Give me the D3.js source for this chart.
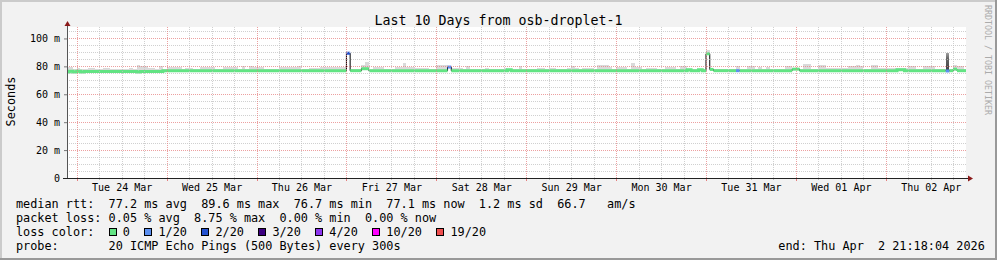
<!DOCTYPE html>
<html>
<head>
<meta charset="utf-8">
<script src="https://cdn.jsdelivr.net/npm/d3@7"></script>
<style>
body { margin: 0; background: #f2f2f2; }
text { font-family: "DejaVu Sans Mono", monospace; }
</style>
</head>
<body>
<script>
// ---- data (hourly rows, first row starts Mon 23 Mar 21:00) ----
let medianRtt = [
  76.0, 76.5, 76.0, 76.5, 76.0, 76.3, 76.3, 76.3, 76.3, 76.3, 76.3, 76.3,
  76.3, 76.3, 76.3, 76.3, 76.3, 76.3, 76.3, 76.0, 76.4, 76.4, 76.4, 76.4,
  76.4, 76.4, 76.9, 76.9, 76.9, 76.9, 76.9, 76.9, 76.9, 76.9, 76.9, 76.9,
  76.9, 76.9, 76.9, 76.9, 76.9, 76.9, 76.9, 76.9, 76.9, 76.9, 76.9, 76.9,
  76.9, 76.9, 76.9, 76.9, 76.9, 76.9, 76.9, 76.9, 76.9, 76.9, 76.9, 76.9,
  76.9, 76.9, 76.9, 76.9, 76.9, 76.9, 76.9, 76.9, 76.9, 76.9, 76.9, 76.9,
  76.9, 76.9, 76.9, 89.4, 76.9, 76.9, 76.9, 78.3, 78.3, 76.9, 76.9, 76.9,
  76.9, 76.9, 76.9, 76.9, 76.9, 76.9, 76.9, 76.9, 76.9, 76.9, 76.9, 76.9,
  76.9, 76.9, 76.9, 76.9, 76.9, 76.9, 79.5, 76.9, 76.9, 76.9, 76.9, 76.9,
  76.9, 76.9, 76.9, 76.9, 76.9, 76.9, 76.9, 76.9, 76.9, 76.9, 77.5, 76.9,
  76.9, 76.9, 76.9, 76.9, 76.9, 76.9, 76.9, 76.9, 76.9, 76.9, 76.9, 76.9,
  76.9, 76.9, 76.9, 76.9, 76.9, 76.9, 76.9, 76.9, 76.9, 76.9, 76.9, 76.9,
  76.9, 76.9, 76.9, 76.9, 76.9, 76.9, 76.9, 76.9, 76.9, 76.9, 76.9, 76.9,
  76.9, 76.9, 76.9, 76.9, 76.9, 76.9, 76.9, 76.9, 76.9, 76.9, 77.6, 76.9,
  76.9, 77.6, 76.9, 89.0, 77.8, 76.9, 76.9, 76.9, 76.9, 76.9, 76.9, 76.9,
  76.9, 76.9, 76.9, 76.9, 76.9, 76.9, 76.9, 76.9, 76.9, 76.9, 76.9, 76.9,
  76.9, 76.9, 78.0, 78.0, 76.9, 76.9, 76.9, 76.9, 76.9, 76.9, 76.9, 76.9,
  76.9, 76.9, 76.9, 76.9, 76.9, 76.9, 76.9, 76.9, 76.9, 76.9, 76.9, 76.9,
  76.9, 76.9, 76.9, 76.9, 76.9, 76.9, 77.6, 77.6, 76.9, 76.9, 76.9, 76.9,
  76.9, 76.9, 76.9, 76.9, 76.9, 76.9, 76.9, 76.7, 76.9, 78.0, 76.9, 76.9,
  76.9
];

// top of the smoke (slowest pings) per hour
let smokeHi = [
  79.5, 79.5, 78.4, 78.8, 78.4, 78.4, 78.8, 78.8, 78.4, 78.4, 78.8, 78.8,
  78.4, 78.4, 78.4, 78.4, 78.4, 78.8, 78.4, 80.8, 80.0, 80.0, 78.8, 78.8,
  78.4, 80.2, 78.4, 79.4, 79.4, 79.4, 79.4, 78.4, 78.8, 78.8, 78.4, 78.4,
  79.6, 79.6, 79.6, 79.6, 78.4, 78.4, 79.7, 79.7, 79.7, 79.7, 78.4, 80.1,
  78.4, 80.4, 79.5, 79.2, 79.2, 78.4, 78.4, 78.4, 78.4, 79.8, 79.8, 79.8,
  79.8, 79.8, 80.0, 78.4, 78.4, 78.8, 78.8, 78.8, 79.3, 79.3, 79.3, 79.3,
  79.5, 79.5, 79.5, 89.4, 78.4, 78.4, 78.4, 81.0, 83.1, 78.4, 79.6, 79.6,
  79.6, 78.4, 78.4, 78.4, 79.8, 79.8, 82.2, 79.7, 79.7, 78.8, 78.8, 78.8,
  78.8, 78.4, 78.4, 80.7, 80.7, 80.7, 79.5, 78.8, 78.8, 78.8, 78.4, 80.0,
  78.4, 78.4, 78.4, 78.4, 78.6, 78.4, 78.4, 78.4, 78.4, 78.6, 78.4, 78.4,
  78.4, 80.0, 78.4, 78.4, 78.4, 78.4, 78.8, 78.8, 78.4, 78.8, 78.8, 78.4,
  78.4, 78.4, 78.8, 80.0, 78.8, 78.4, 78.6, 78.6, 78.6, 78.4, 81.0, 81.0,
  81.0, 79.5, 78.4, 79.5, 79.5, 79.5, 78.4, 82.5, 79.3, 79.3, 78.4, 78.5,
  78.5, 78.5, 78.4, 78.4, 79.6, 79.5, 79.6, 78.4, 80.0, 80.5, 78.4, 78.4,
  78.4, 78.4, 78.4, 91.5, 78.4, 78.4, 78.4, 78.4, 78.4, 78.4, 78.4, 80.0,
  78.4, 78.4, 80.0, 80.0, 78.4, 79.5, 78.4, 79.5, 78.4, 78.4, 78.4, 78.4,
  80.0, 80.0, 78.4, 78.4, 78.4, 81.7, 81.7, 78.4, 78.4, 80.7, 80.7, 78.5,
  78.5, 78.5, 78.5, 78.5, 78.5, 80.0, 80.0, 80.7, 80.0, 78.4, 78.4, 80.7,
  80.7, 78.5, 78.5, 78.5, 78.5, 78.5, 78.5, 78.5, 78.5, 80.0, 80.0, 78.4,
  78.4, 80.0, 80.0, 80.0, 78.4, 78.4, 78.4, 89.5, 78.4, 81.2, 80.0, 80.0,
  78.4
];

// hours with wide ping spread (dark smoke)
let spreadHours = [235];

// hours with packet loss and their loss class (index into lossColors)
let lossHours = [75, 102, 179, 235];
let lossLevel = [2, 1, 1, 1];

let lossLabels = ["0", "1/20", "2/20", "3/20", "4/20", "10/20", "19/20"];
let lossColors = ["#62e383", "#5b8ff0", "#2452d0", "#3c0080", "#8c35ef", "#ff00ff", "#ef4f4f"];

let yTicks = [0, 20, 40, 60, 80, 100];
let dayLabels = ["Tue 24 Mar", "Wed 25 Mar", "Thu 26 Mar", "Fri 27 Mar", "Sat 28 Mar",
                 "Sun 29 Mar", "Mon 30 Mar", "Tue 31 Mar", "Wed 01 Apr", "Thu 02 Apr"];

let rttStats = ["77.2 ms avg", "89.6 ms max", "76.7 ms min", "77.1 ms now", "1.2 ms sd", "66.7   am/s"];
let lossStats = ["0.05 % avg", "8.75 % max", "0.00 % min", "0.00 % now"];

// ---- setup ----
let width = 997;
let height = 260;
let endTime = new Date(Date.UTC(2026, 3, 2, 21, 18, 4));
let startTime = new Date(endTime - 10 * 864e5);
let firstBin = Date.UTC(2026, 2, 23, 21);
let hour = 3600e3;

let svg = d3.select("body").append("svg")
            .attr("width", width)
            .attr("height", height);

let x = d3.scaleUtc().domain([startTime, endTime]).range([66.6, 965.6]);
let y = d3.scaleLinear().domain([0, 108.2]).range([178, 27]);

let lossByHour = new Map(lossHours.map((h, i) => [h, lossLevel[i]]));
let bins = medianRtt.map((m, j) => ({
  j: j,
  t0: new Date(firstBin + j * hour),
  t1: new Date(firstBin + (j + 1) * hour),
  med: m,
  hi: smokeHi[j],
  loss: lossByHour.get(j) || 0
}));

// The background and the 3d frame
svg.append("rect").attr("width", width).attr("height", height).attr("fill", "#f2f2f2");
svg.append("rect").attr("x", 0).attr("y", 0).attr("width", width).attr("height", 2).attr("fill", "#cbcbcb");
svg.append("rect").attr("x", 0).attr("y", 0).attr("width", 2).attr("height", height).attr("fill", "#cbcbcb");
svg.append("rect").attr("x", 0).attr("y", height - 2).attr("width", width).attr("height", 2).attr("fill", "#999999");
svg.append("rect").attr("x", width - 2).attr("y", 0).attr("width", 2).attr("height", height).attr("fill", "#999999");

// The canvas
svg.append("rect").attr("x", 67).attr("y", 27)
   .attr("width", 899).attr("height", 151)
   .attr("fill", "#ffffff");

let defs = svg.append("defs");
defs.append("clipPath").attr("id", "plot")
    .append("rect").attr("x", 67).attr("y", 20).attr("width", 899).attr("height", 158);

let grad = defs.append("linearGradient").attr("id", "spread")
               .attr("x1", 0).attr("y1", 0).attr("x2", 0).attr("y2", 1);
grad.append("stop").attr("offset", "0%").attr("stop-color", "#a0a0a0");
grad.append("stop").attr("offset", "30%").attr("stop-color", "#666666");
grad.append("stop").attr("offset", "100%").attr("stop-color", "#404040");

let plot = svg.append("g").attr("clip-path", "url(#plot)");

// The smoke
plot.selectAll("rect.smoke")
    .data(bins.filter(b => b.hi > b.med))
    .join("rect")
    .attr("class", "smoke")
    .attr("x", b => x(b.t0))
    .attr("width", b => x(b.t1) - x(b.t0))
    .attr("y", b => y(b.hi))
    .attr("height", b => y(b.med) - y(b.hi))
    .attr("shape-rendering", "crispEdges")
    .attr("fill", b => spreadHours.includes(b.j) ? "url(#spread)" : "#dadada");

// The median, thin black line underneath
let step = d3.line().x(d => x(d[0])).y(d => y(d[1])).curve(d3.curveStepAfter);
let last = bins[bins.length - 1];
let allPts = bins.map(b => [b.t0, b.med]).concat([[last.t1, last.med]]);
plot.append("path")
    .attr("d", step(allPts))
    .attr("fill", "none")
    .attr("stroke", "#000000")
    .attr("stroke-width", 1);

// The median coloured by packet loss
let runs = [];
let cur = [bins[0]];
for (let j = 1; j < bins.length; j++) {
  let a = bins[j - 1], b = bins[j];
  if (a.loss === b.loss && Math.abs(a.med - b.med) <= 0.8) {
    cur.push(b);
  } else {
    runs.push(cur);
    cur = [b];
  }
}
runs.push(cur);

plot.selectAll("path.median")
    .data(runs)
    .join("path")
    .attr("class", "median")
    .attr("d", r => step(r.map(b => [b.t0, b.med]).concat([[r[r.length - 1].t1, r[r.length - 1].med]])))
    .attr("fill", "none")
    .attr("stroke", r => lossColors[r[0].loss])
    .attr("stroke-width", 3)
    .attr("stroke-linecap", "butt");

// The grid
let minorTimes = d3.utcHour.every(6).range(startTime, endTime).filter(d => d.getUTCHours() !== 0);
let dayTimes = d3.utcDay.range(startTime, endTime);
let minorVals = d3.range(5, 108, 5).filter(v => v % 20 !== 0);
let majorVals = yTicks.filter(v => v > 0);
let grid = svg.append("g").attr("stroke-dasharray", "1,1").attr("shape-rendering", "crispEdges");

grid.selectAll("line.vmin").data(minorTimes).join("line")
    .attr("x1", d => Math.round(x(d)) + 0.5).attr("x2", d => Math.round(x(d)) + 0.5)
    .attr("y1", 27).attr("y2", 178)
    .attr("stroke", "#c0c0c0").attr("stroke-opacity", 0.75);
grid.selectAll("line.hmin").data(minorVals).join("line")
    .attr("x1", 67).attr("x2", 966)
    .attr("y1", d => Math.round(y(d)) + 0.5).attr("y2", d => Math.round(y(d)) + 0.5)
    .attr("stroke", "#c0c0c0").attr("stroke-opacity", 0.75);
grid.selectAll("line.vmaj").data(dayTimes).join("line")
    .attr("x1", d => Math.round(x(d)) + 0.5).attr("x2", d => Math.round(x(d)) + 0.5)
    .attr("y1", 27).attr("y2", 178)
    .attr("stroke", "#e68080").attr("stroke-opacity", 0.75);
grid.selectAll("line.hmaj").data(majorVals).join("line")
    .attr("x1", 67).attr("x2", 966)
    .attr("y1", d => Math.round(y(d)) + 0.5).attr("y2", d => Math.round(y(d)) + 0.5)
    .attr("stroke", "#e68080").attr("stroke-opacity", 0.75);

// Small ticks under the time axis
svg.selectAll("line.tmin").data(minorTimes).join("line")
   .attr("x1", d => Math.round(x(d)) + 0.5).attr("x2", d => Math.round(x(d)) + 0.5)
   .attr("y1", 178).attr("y2", 180)
   .attr("stroke", "#c0c0c0");
svg.selectAll("line.tmaj").data(dayTimes).join("line")
   .attr("x1", d => Math.round(x(d)) + 0.5).attr("x2", d => Math.round(x(d)) + 0.5)
   .attr("y1", 178).attr("y2", 181)
   .attr("stroke", "#e68080");

// The x axis labels
let noons = dayTimes.map(d => d3.utcHour.offset(d, 12));
let xAxis = svg.append("g")
               .attr("transform", "translate(0,178)")
               .call(d3.axisBottom(x).tickValues(noons).tickFormat((d, i) => dayLabels[i]).tickSize(0).tickPadding(6));
xAxis.select(".domain").remove();
xAxis.selectAll("text").attr("font-family", "DejaVu Sans Mono").attr("font-size", 10).attr("fill", "#000");

// The y axis labels
let yAxis = svg.append("g")
               .attr("transform", "translate(67,0)")
               .call(d3.axisLeft(y).tickValues(yTicks).tickFormat(v => v ? v + " m" : "0").tickSize(3).tickPadding(4));
yAxis.select(".domain").remove();
yAxis.selectAll("line").attr("stroke", "#777");
yAxis.selectAll("text").attr("font-family", "DejaVu Sans Mono").attr("font-size", 10).attr("fill", "#000");

// The axis lines and arrows
svg.append("line").attr("x1", 67.5).attr("x2", 67.5).attr("y1", 178).attr("y2", 25)
   .attr("stroke", "#555").attr("shape-rendering", "crispEdges");
svg.append("line").attr("x1", 63).attr("x2", 969).attr("y1", 178.5).attr("y2", 178.5)
   .attr("stroke", "#222").attr("shape-rendering", "crispEdges");
svg.append("polygon").attr("points", "67.5,21 64.5,26 70.5,26").attr("fill", "#8b1a1a");
svg.append("polygon").attr("points", "973,178.5 968,175.5 968,181.5").attr("fill", "#8b1a1a");

// The title
svg.append("text").attr("x", 498.5).attr("y", 24.5)
   .attr("text-anchor", "middle")
   .attr("font-size", 13.3)
   .text("Last 10 Days from osb-droplet-1");

// The vertical unit label
svg.append("text").attr("transform", "translate(14.5,101.5) rotate(-90)")
   .attr("text-anchor", "middle")
   .attr("font-size", 11.83)
   .text("Seconds");

// The rrdtool watermark
svg.append("text").attr("transform", "translate(985,5) rotate(90)")
   .attr("font-size", 8.3)
   .attr("fill", "#ababab")
   .text("RRDTOOL / TOBI OETIKER");

// The legend
let fs = 11.83;
let cw = fs * 0.602;
function legendLine(yy, str, xx) {
  svg.append("text").attr("x", xx || 16).attr("y", yy)
     .attr("xml:space", "preserve")
     .style("white-space", "pre")
     .attr("font-size", fs)
     .text(str);
}
legendLine(208.3, "median rtt:  " + rttStats.join("  "));
legendLine(222.3, "packet loss: " + lossStats.join("  "));
legendLine(236.3, "loss color:");
legendLine(250.3, "probe:       20 ICMP Echo Pings (500 Bytes) every 300s");
legendLine(250.3, "end: Thu Apr  2 21:18:04 2026", 778.3);

let col = 13;
lossLabels.forEach((lab, i) => {
  let bx = 16 + col * cw;
  svg.append("rect").attr("x", Math.round(bx) + 0.5).attr("y", 228.5)
     .attr("width", 7).attr("height", 7)
     .attr("fill", lossColors[i])
     .attr("stroke", "#000").attr("stroke-width", 1);
  legendLine(236.3, lab, 16 + (col + 2) * cw);
  col += 2 + lab.length + 2;
});
</script>
</body>
</html>
